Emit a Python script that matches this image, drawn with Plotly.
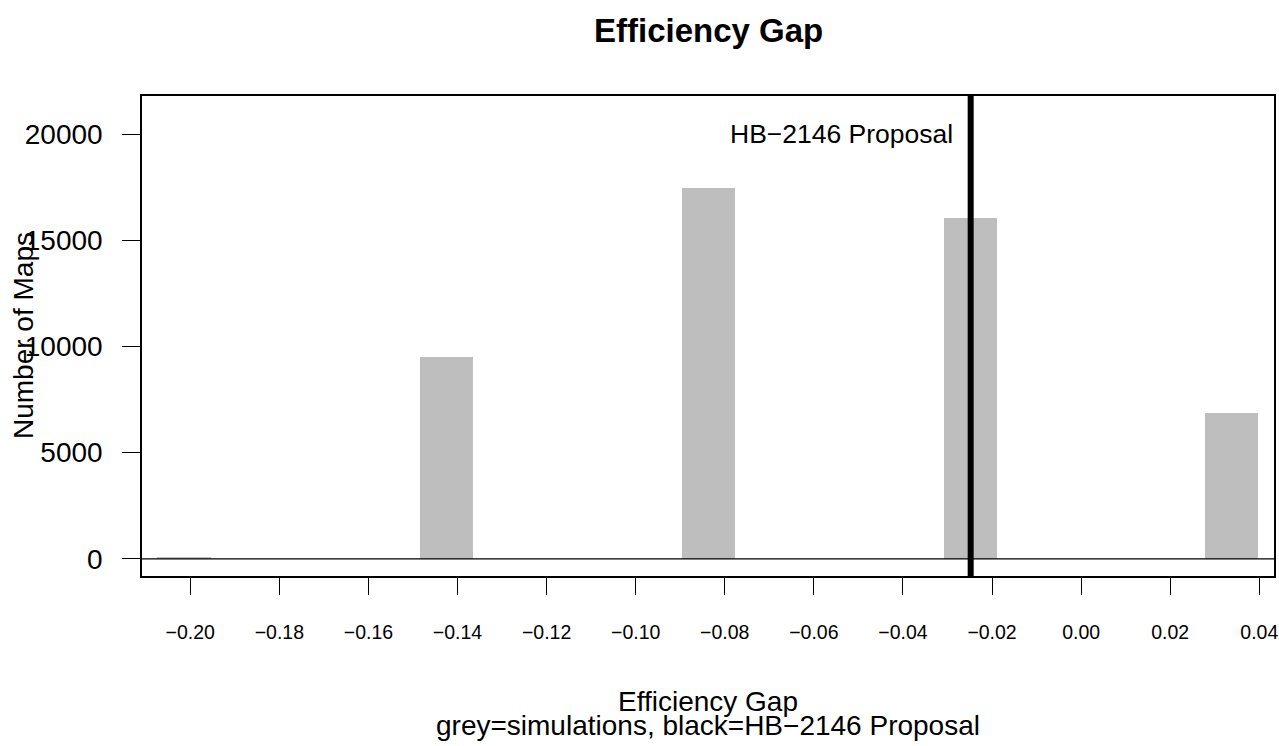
import plotly.graph_objects as go

# Histogram bins of simulated efficiency gaps (bin centres) and counts
bin_centers = [-0.2014, -0.1425, -0.0836, -0.0248, 0.0337]
map_counts = [40, 9510, 17460, 16060, 6850]
bin_width = 0.012

# Efficiency gap of the HB-2146 proposal
hb_gap = -0.0248
hb_label = "HB\u22122146 Proposal"

x_ticks = [-0.20, -0.18, -0.16, -0.14, -0.12, -0.10, -0.08, -0.06, -0.04, -0.02, 0.00, 0.02, 0.04]
x_tick_text = [("\u2212" if v < 0 else "") + f"{abs(v):.2f}" for v in x_ticks]
y_ticks = [0, 5000, 10000, 15000, 20000]
y_tick_text = [str(v) for v in y_ticks]

FONT = "Liberation Sans, Arial, Helvetica, sans-serif"

# plot area in pixels: left 142, right 1274, top 96, bottom 576
PLOT_TOP, PLOT_BOTTOM, PLOT_LEFT, PLOT_W = 96, 576, 142, 1132
PLOT_H = PLOT_BOTTOM - PLOT_TOP


def paper_y(px):
    return (PLOT_BOTTOM - px) / PLOT_H


fig = go.Figure()
fig.add_trace(go.Bar(
    x=bin_centers, y=map_counts, width=bin_width,
    marker=dict(color="#BEBEBE", line=dict(width=0)),
    showlegend=False, hoverinfo="x+y",
))

# horizontal reference at zero and the proposal's vertical line
fig.add_shape(type="line", xref="paper", yref="y", x0=0, x1=1, y0=0, y1=0,
              line=dict(color="black", width=1.2), layer="above")
fig.add_shape(type="line", xref="x", yref="paper", x0=hb_gap, x1=hb_gap, y0=0, y1=1,
              line=dict(color="black", width=6), layer="above")

fig.add_annotation(x=hb_gap, y=20000, xref="x", yref="y", text=hb_label,
                   showarrow=False, xanchor="right", yanchor="middle", xshift=-16,
                   font=dict(family=FONT, size=26.5, color="black"))

# titles
fig.add_annotation(x=0.5, y=paper_y(31), xref="paper", yref="paper", text="<b>Efficiency Gap</b>",
                   showarrow=False, xanchor="center", yanchor="middle",
                   font=dict(family=FONT, size=33, color="black"))
fig.add_annotation(x=0.5, y=paper_y(701), xref="paper", yref="paper", text="Efficiency Gap",
                   showarrow=False, xanchor="center", yanchor="middle",
                   font=dict(family=FONT, size=28, color="black"))
fig.add_annotation(x=0.5, y=paper_y(725), xref="paper", yref="paper",
                   text="grey=simulations, black=HB\u22122146 Proposal",
                   showarrow=False, xanchor="center", yanchor="middle",
                   font=dict(family=FONT, size=28, color="black"))
fig.add_annotation(x=(23 - PLOT_LEFT) / PLOT_W, y=0.5, xref="paper", yref="paper", text="Number of Maps",
                   showarrow=False, xanchor="center", yanchor="middle", textangle=-90,
                   font=dict(family=FONT, size=28, color="black"))

fig.update_layout(
    width=1279, height=746, autosize=False,
    margin=dict(l=142, r=5, t=96, b=170),
    paper_bgcolor="white", plot_bgcolor="white",
    font=dict(family=FONT, color="black"),
    bargap=0,
    xaxis=dict(
        range=[-0.21084, 0.04330], tickvals=x_ticks, ticktext=x_tick_text,
        ticks="outside", ticklen=17, tickwidth=1.4, tickcolor="black",
        showline=True, linecolor="black", linewidth=1.5, mirror=True,
        showgrid=False, zeroline=False, ticklabelstandoff=21, automargin=False,
        tickfont=dict(family=FONT, size=19.5, color="black"),
    ),
    yaxis=dict(
        range=[-810, 21790], tickvals=y_ticks, ticktext=y_tick_text,
        ticks="outside", ticklen=18, tickwidth=1.4, tickcolor="black",
        showline=True, linecolor="black", linewidth=1.5, mirror=True,
        showgrid=False, zeroline=False, ticklabelstandoff=14, automargin=False,
        tickfont=dict(family=FONT, size=28, color="black"),
    ),
)

fig.write_html("out.html")
